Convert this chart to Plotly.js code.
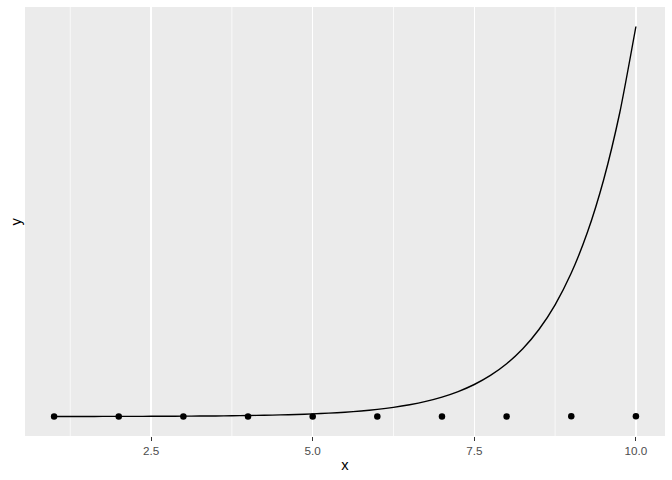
<!DOCTYPE html>
<html>
<head>
<meta charset="utf-8">
<script src="https://cdn.plot.ly/plotly-3.0.1.min.js"></script>
<style>html,body{margin:0;padding:0;background:#fff;}#chart{width:672px;height:480px;}</style>
</head>
<body>
<div id="chart"></div>
<script>
// Observed points
const pointX = [1, 2, 3, 4, 5, 6, 7, 8, 9, 10];
const pointY = [1, 2, 3, 4, 5, 6, 7, 8, 9, 10];

// Fitted curve
const curveX = [1, 1.25, 1.5, 1.75, 2, 2.25, 2.5, 2.75, 3, 3.25, 3.5, 3.75, 4, 4.25, 4.5, 4.75,
  5, 5.25, 5.5, 5.75, 6, 6.25, 6.5, 6.75, 7, 7.25, 7.5, 7.75, 8, 8.25, 8.5, 8.75, 9, 9.25, 9.5, 9.75, 10];
const curveY = [2.72, 3.49, 4.48, 5.76, 7.39, 9.49, 12.2, 15.6, 20.1, 25.8, 33.1, 42.5, 54.6, 70.1, 90.0, 115.6,
  148.4, 190.6, 244.7, 314.2, 403.4, 518.0, 665.1, 854.1, 1096.6, 1408.1, 1808.0, 2321.6, 2981.0, 3827.6,
  4914.8, 6310.7, 8103.1, 10404.6, 13359.7, 17154.2, 22026.5];

const xTicks = [2.5, 5, 7.5, 10];
const xTickText = ['2.5', '5.0', '7.5', '10.0'];
const xMinor = [1.25, 3.75, 6.25, 8.75];

const allY = pointY.concat(curveY);
const yMin = Math.min(...allY), yMax = Math.max(...allY);
const yPad = (yMax - yMin) * 0.05;
const xMin = Math.min(...pointX, ...curveX), xMax = Math.max(...pointX, ...curveX);
const xPad = (xMax - xMin) * 0.05;

const shapes = xMinor.map(v => ({
  type: 'line', xref: 'x', yref: 'paper', x0: v, x1: v, y0: 0, y1: 1,
  line: {color: '#ffffff', width: 0.7}, layer: 'below'
}));

const data = [
  {x: curveX, y: curveY, type: 'scatter', mode: 'lines',
   line: {color: '#000000', width: 1.4, shape: 'spline', smoothing: 0.6}, hoverinfo: 'skip'},
  {x: pointX, y: pointY, type: 'scatter', mode: 'markers',
   marker: {color: '#000000', size: 6.5}}
];

const layout = {
  width: 672, height: 480,
  margin: {l: 25, r: 7, t: 7, b: 44},
  paper_bgcolor: '#ffffff',
  plot_bgcolor: '#EBEBEB',
  showlegend: false,
  font: {family: 'Liberation Sans, Arial, sans-serif', color: '#000000'},
  shapes: shapes,
  annotations: [{
    text: 'y', xref: 'paper', yref: 'paper', x: -10 / 640, y: 0.5,
    xanchor: 'center', yanchor: 'middle', textangle: -90, showarrow: false,
    font: {size: 14.7, color: '#000000'}
  }],
  xaxis: {
    range: [xMin - xPad, xMax + xPad],
    tickvals: xTicks, ticktext: xTickText,
    ticks: 'outside', ticklen: 3.5, tickwidth: 1.1, tickcolor: '#333333',
    tickfont: {size: 11.7, color: '#4D4D4D'},
    showgrid: true, gridcolor: '#ffffff', gridwidth: 1.4,
    zeroline: false, showline: false,
    title: {text: 'x', font: {size: 14.7, color: '#000000'}, standoff: 4}
  },
  yaxis: {
    range: [yMin - yPad, yMax + yPad],
    showticklabels: false, ticks: '', showgrid: false,
    zeroline: false, showline: false
  }
};

Plotly.newPlot('chart', data, layout, {displayModeBar: false, staticPlot: true});
</script>
</body>
</html>
